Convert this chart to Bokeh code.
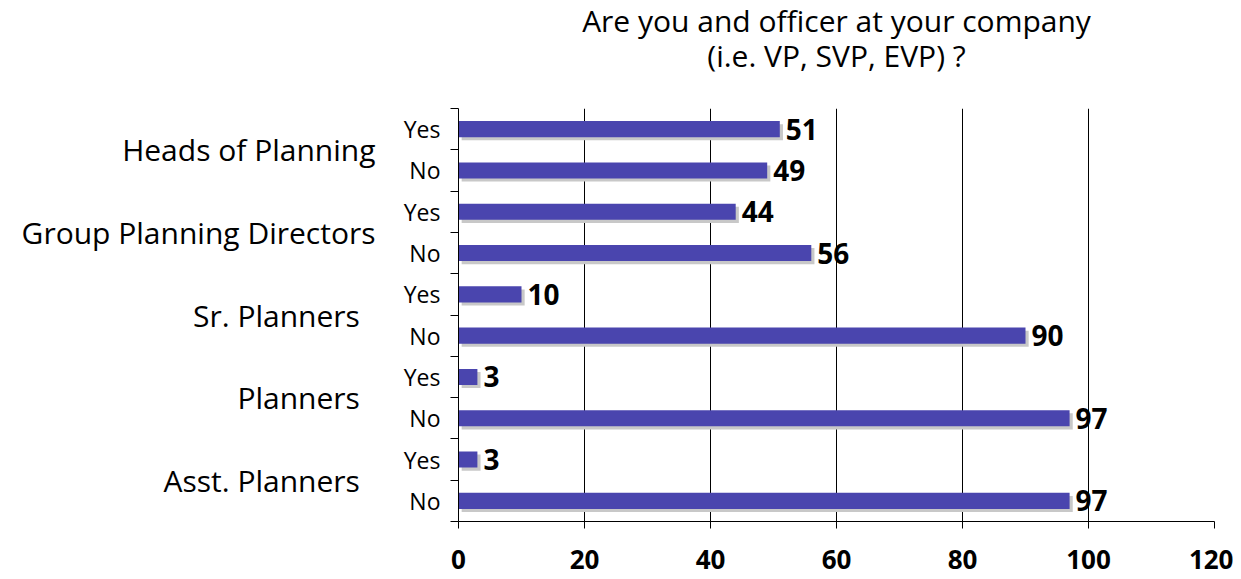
from bokeh.plotting import figure
from bokeh.models import (ColumnDataSource, Range1d, LinearAxis, FixedTicker, Title)
from bokeh.transform import dodge
from bokeh.embed import file_html
from bokeh.resources import INLINE

# ---- data ----
groups = ["Heads of Planning", "Group Planning Directors", "Sr. Planners",
          "Planners", "Asst. Planners"]
answers = ["Yes", "No"]
values = [51, 49, 44, 56, 10, 90, 3, 97, 3, 97]
x_ticks = [0, 20, 40, 60, 80, 100, 120]
title_lines = ["Are you and officer at your company", "(i.e. VP, SVP, EVP) ?"]

BAR = "#4a45ae"
SHADOW = "#c8c8c8"
FONT = "Open Sans"
group_trail = [0, 0, 2, 2, 2]  # trailing spaces seen in the original labels

n = len(values)
rows = [i + 0.5 for i in range(n)]
labels = [answers[i % 2] for i in range(n)]
src = ColumnDataSource(dict(y=rows, v=values, lab=[str(v) for v in values]))

p = figure(width=1233, height=579, output_backend="svg", toolbar_location=None,
           x_range=Range1d(0, 120), y_range=Range1d(n, 0),
           min_border_left=458, min_border_right=19, min_border_bottom=58,
           min_border_top=108, outline_line_color=None, title=None)

# title: two centred lines (second line nearest the plot)
t2 = Title(text=title_lines[1], align="center", text_font=FONT,
           text_font_size="30px", text_font_style="normal", text_color="black",
           standoff=65, offset=0)
t1 = Title(text=title_lines[0], align="center", text_font=FONT,
           text_font_size="30px", text_font_style="normal", text_color="black",
           standoff=-80, offset=0)
p.add_layout(t2, "above")
p.add_layout(t1, "above")

# shadows and bars
p.hbar(y=dodge("y", 0.075), left=0.5, right=dodge("v", 0.5), height=0.39,
       source=src, color=SHADOW, line_color=None)
p.hbar(y="y", left=0, right="v", height=0.39, source=src, color=BAR,
       line_color=None)
p.text(x="v", y="y", text="lab", source=src, x_offset=6, text_baseline="middle",
       text_align="left", text_font=dict(value=FONT), text_font_size="28px",
       text_font_style="bold", text_color="black")

# x axis
xa = p.xaxis[0]
xa.ticker = FixedTicker(ticks=x_ticks)
xa.axis_line_color = "black"
xa.major_tick_line_color = "black"
xa.major_tick_in = 0
xa.major_tick_out = 7
xa.minor_tick_line_color = None
xa.major_label_text_font = FONT
xa.major_label_text_font_size = "26px"
xa.major_label_text_font_style = "bold"
xa.major_label_text_color = "black"
xa.major_label_standoff = 21

p.xgrid.ticker = FixedTicker(ticks=x_ticks)
p.xgrid.grid_line_color = "black"
p.xgrid.grid_line_width = 1
p.ygrid.grid_line_color = None

# y axis (Yes/No)
ya = p.yaxis[0]
ya.ticker = FixedTicker(ticks=rows, minor_ticks=list(range(n + 1)))
ya.major_label_overrides = {r: l for r, l in zip(rows, labels)}
ya.axis_line_color = "black"
ya.major_tick_line_color = None
ya.major_tick_in = 0
ya.major_tick_out = 0
ya.minor_tick_line_color = "black"
ya.minor_tick_in = 0
ya.minor_tick_out = 8
ya.major_label_standoff = 10
ya.major_label_text_font = FONT
ya.major_label_text_font_size = "23px"
ya.major_label_text_color = "black"

# outer axis (group names)
gpos = [2 * g + 1 for g in range(len(groups))]
ga = LinearAxis(ticker=FixedTicker(ticks=gpos),
                major_label_overrides={gp: g + "\u00a0" * t
                                       for gp, g, t in zip(gpos, groups, group_trail)})
ga.axis_line_color = None
ga.major_tick_line_color = None
ga.minor_tick_line_color = None
ga.major_tick_out = 0
ga.major_tick_in = 0
ga.major_label_standoff = 25
ga.major_label_text_font = FONT
ga.major_label_text_font_size = "30px"
ga.major_label_text_color = "black"
p.add_layout(ga, "left")

open("out.html", "w").write(file_html(p, INLINE))
